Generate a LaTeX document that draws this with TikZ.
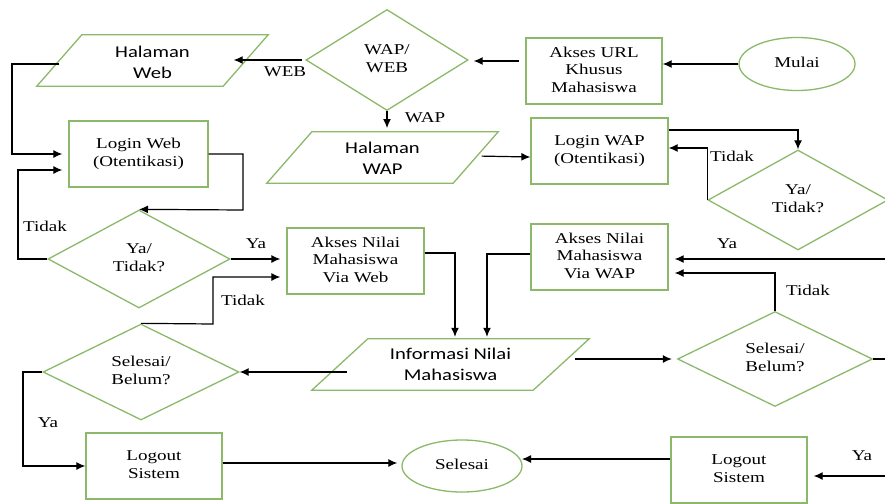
\documentclass[tikz,border=0pt]{standalone}
\usepackage{fontspec}
\usepackage{graphicx}
\usetikzlibrary{shapes.geometric,arrows.meta}
\newfontfamily\fsr{Liberation Serif}
\newfontfamily\fsa{Carlito}
\newcommand\TT[1]{\scalebox{1.27}[1]{\begin{tabular}{@{}c@{}}#1\end{tabular}}}
\newcommand\TS[1]{\scalebox{1.25}[1]{\begin{tabular}{@{}c@{}}#1\end{tabular}}}
\definecolor{grn}{RGB}{140,185,105}
\tikzset{
  serif/.style={font=\fontsize{15}{17.5}\selectfont\fsr},
  sans/.style={font=\fontsize{16.5}{21}\selectfont\fsa},
  box/.style={draw=grn, line width=1.3pt, rectangle, align=center, serif,
    minimum width=137pt, minimum height=66pt, inner sep=0pt},
  dia/.style={draw=grn, line width=1.3pt, diamond, align=center, serif,
    shape aspect=2, inner sep=0pt},
  ell/.style={draw=grn, line width=1.3pt, ellipse, align=center, serif, inner sep=0pt},
  parabody/.style={rectangle, align=center, sans, inner sep=0pt, minimum height=51pt},
  paraline/.style={draw=grn, line width=1.3pt, line join=miter},
  arr/.style={line width=1.2pt, -{Latex[length=9pt,width=8pt]}},
  ln/.style={line width=1.2pt},
  lbl/.style={serif, inner sep=0pt}
}
\begin{document}
\begin{tikzpicture}[x=1pt, y=-1pt]
\useasboundingbox (0,0) rectangle (885,503);
% nodes
\node[ell, minimum width=116pt, minimum height=53pt] (mulai) at (797,64) {\TT{Mulai}};
\node[box, minimum width=136pt] (url) at (594,71) {\TT{Akses URL\\Khusus\\Mahasiswa}};
\node[dia, minimum width=162pt, minimum height=101pt] (wapweb) at (387,60) {\TT{WAP/\\WEB}};
\node[parabody, minimum width=186pt] (hweb) at (152.5,63.5) {\TS{Halaman\\Web}};
\draw[paraline] ([xshift=22.5pt,yshift=3pt]hweb.north west) -- ([xshift=22.5pt,yshift=3pt]hweb.north east)
  -- ([xshift=-22.5pt,yshift=3pt]hweb.south east) -- ([xshift=-22.5pt,yshift=3pt]hweb.south west) -- cycle;
\node[parabody, minimum width=186pt] (hwap) at (382.5,159.5) {\TS{Halaman\\WAP}};
\draw[paraline] ([xshift=22.5pt,yshift=2pt]hwap.north west) -- ([xshift=22.5pt,yshift=2pt]hwap.north east)
  -- ([xshift=-22.5pt,yshift=2pt]hwap.south east) -- ([xshift=-22.5pt,yshift=2pt]hwap.south west) -- cycle;
\node[box] (lwap) at (599.5,151) {\TT{Login WAP\\(Otentikasi)}};
\node[dia, minimum width=180pt, minimum height=100pt] (yt2) at (798,200) {\TT{Ya/\\Tidak?}};
\node[box, minimum width=139pt] (lweb) at (138.5,154) {\TT{Login Web\\(Otentikasi)}};
\node[dia, minimum width=182pt, minimum height=98pt] (yt1) at (139,259) {\TT{Ya/\\Tidak?}};
\node[box] (aweb) at (355.5,261) {\TT{Akses Nilai\\Mahasiswa\\Via Web}};
\node[box] (awap) at (599.5,257) {\TT{Akses Nilai\\Mahasiswa\\Via WAP}};
\node[parabody, minimum width=221pt] (info) at (450.5,365.5) {\TS{Informasi Nilai\\Mahasiswa}};
\draw[paraline] ([xshift=28pt,yshift=1pt]info.north west) -- ([xshift=28pt,yshift=1pt]info.north east)
  -- ([xshift=-28pt,yshift=1pt]info.south east) -- ([xshift=-28pt,yshift=1pt]info.south west) -- cycle;
\node[dia, minimum width=196pt, minimum height=96pt] (sb1) at (141,372) {\TT{Selesai/\\Belum?}};
\node[dia, minimum width=195pt, minimum height=95pt] (sb2) at (775,359) {\TT{Selesai/\\Belum?}};
\node[box, minimum width=136pt] (lo1) at (154,466) {\TT{Logout\\Sistem}};
\node[ell, minimum width=120pt, minimum height=52pt] (selesai) at (462,466) {\TT{Selesai}};
\node[box, minimum width=136pt] (lo2) at (739,470) {\TT{Logout\\Sistem}};
\coordinate (edgeya) at (885,259);
\coordinate (edgesb) at (885,359);
\coordinate (edgelo) at (885,476);
% connectors
\draw[arr] (mulai.west) -- (url.east |- mulai.west);
\draw[arr, shorten <=6pt, shorten >=5pt] (url.west |- 0,61) -- (wapweb.east |- 0,61);
\draw[arr, shorten <=3pt, shorten >=-12pt] (wapweb.west) -- (hweb.east |- wapweb.west);
\node[lbl] (lweb1) at (285,73) {\TT{WEB}};
\draw[arr] (wapweb.south) -- (387,128);
\node[lbl] (lwap1) at (425,119) {\TT{WAP}};
\draw[arr, shorten <=6pt] (hwap.east |- 0,156) -- (lwap.west |- 0,157);
\draw[arr] (lwap.east |- 0,130) -| (yt2.north);
\draw[arr] (yt2.west) |- (lwap.east |- 0,148);
\node[lbl] (lt1) at (732,158) {\TT{Tidak}};
\draw[arr, shorten >=6pt] (hweb.west |- 0,64) -- (12,64) |- (lweb.west |- 0,154);
\draw[arr] (lweb.east) -| (243,210) -- (yt1.north);
\draw[arr, shorten >=6pt] (yt1.west) -- (18,259) |- (lweb.west |- 0,170);
\node[lbl] (lt2) at (45,228) {\TT{Tidak}};
\draw[arr, shorten >=6pt] (yt1.east) -- (aweb.west |- yt1.east);
\node[lbl] (ly1) at (256,245) {\TT{Ya}};
\draw[arr, shorten >=6pt] (sb1.north) -- (213,324) |- (aweb.west |- 0,277);
\node[lbl] (lt3) at (243,302) {\TT{Tidak}};
\draw[arr, shorten >=3pt] (aweb.east |- 0,253) -| (info.north -| 455,0);
\draw[arr, shorten >=3pt] (awap.west |- 0,254) -| (info.north -| 487,0);
\draw[arr, shorten <=14pt, shorten >=5pt] (info.east |- sb2.west) -- (sb2.west);
\draw[arr, shorten <=-7pt] (info.west |- sb1.east) -- (sb1.east);
\draw[arr, shorten >=6pt] (edgeya) -- (awap.east |- edgeya);
\node[lbl] (ly2) at (727,245) {\TT{Ya}};
\draw[arr, shorten >=6pt] (sb2.north) |- (awap.east |- 0,273);
\node[lbl] (lt4) at (808,292) {\TT{Tidak}};
\draw[ln] (sb2.east) -- (edgesb);
\draw[arr] (sb1.west) -- (23,372) |- (lo1.west);
\node[lbl] (ly3) at (48,424) {\TT{Ya}};
\draw[arr, shorten >=4pt] (lo1.east |- 0,463) -- (selesai.west |- 0,463);
\draw[arr] (lo2.west |- 0,459) -- (522,459);
\draw[arr, shorten >=6pt] (edgelo) -- (lo2.east |- edgelo);
\node[lbl] (ly4) at (862,457) {\TT{Ya}};
\end{tikzpicture}
\end{document}
